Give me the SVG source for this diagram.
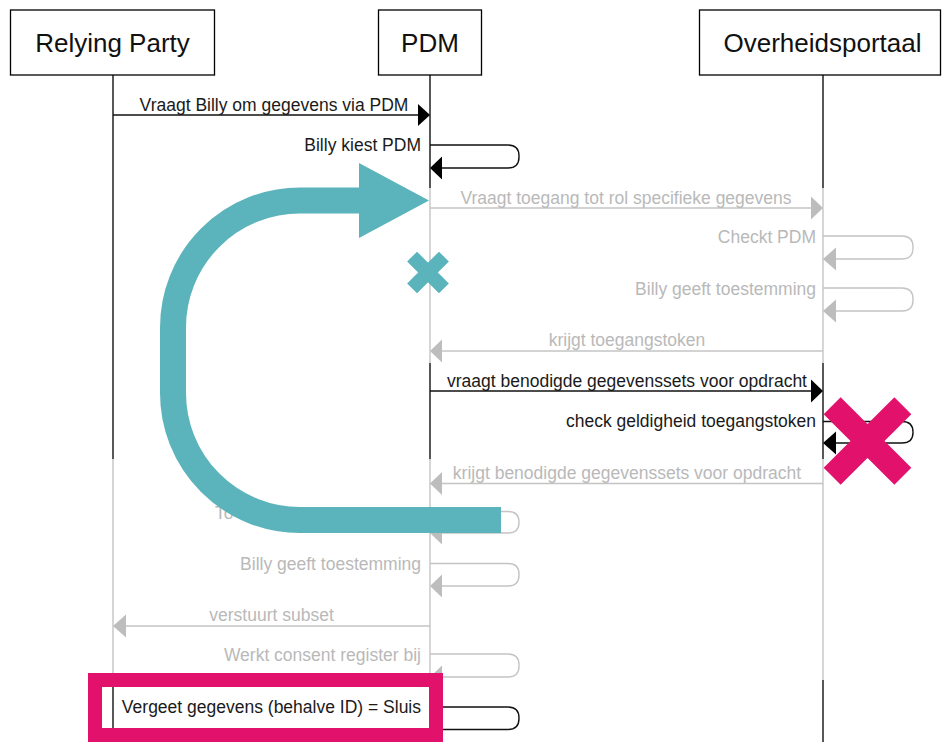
<svg xmlns="http://www.w3.org/2000/svg" width="942" height="742" viewBox="0 0 942 742">
<style>
.box{fill:#fff;stroke:#000;stroke-width:1.3}
.hd{font-family:"Liberation Sans",Arial,sans-serif;font-size:26px;fill:#111;text-anchor:middle}
.lb{font-family:"Liberation Sans",Arial,sans-serif;font-size:17.5px}
.blk{fill:#1a1a1a}
.gry{fill:#b9b9b9}
.ls{stroke-width:1.4;fill:none}
.lk{stroke:#111}
.lg{stroke:#c4c4c4}
.ak{fill:#000}
.ag{fill:#bdbdbd}
.r{text-anchor:end}
.m{text-anchor:middle}
</style>
<rect width="942" height="742" fill="#fff"/>
<g id="lifelines">
<line class="ls lk" x1="113" y1="75" x2="113" y2="459"/>
<line class="ls lg" x1="113" y1="459" x2="113" y2="680"/>
<line class="ls lk" x1="113" y1="680" x2="113" y2="742"/>
<line class="ls lk" x1="430" y1="75" x2="430" y2="188"/>
<line class="ls lg" x1="430" y1="188" x2="430" y2="363"/>
<line class="ls lk" x1="430" y1="363" x2="430" y2="459"/>
<line class="ls lg" x1="430" y1="459" x2="430" y2="680"/>
<line class="ls lk" x1="430" y1="680" x2="430" y2="742"/>
<line class="ls lk" x1="823" y1="75" x2="823" y2="188"/>
<line class="ls lg" x1="823" y1="188" x2="823" y2="363"/>
<line class="ls lk" x1="823" y1="363" x2="823" y2="459"/>
<line class="ls lg" x1="823" y1="459" x2="823" y2="680"/>
<line class="ls lk" x1="823" y1="680" x2="823" y2="742"/>
</g>
<g id="node-relying-party"><rect class="box" x="10.5" y="10" width="204" height="65"/><text class="hd" x="112.5" y="52">Relying Party</text></g>
<g id="node-pdm"><rect class="box" x="378.5" y="10" width="103" height="65"/><text class="hd" x="430" y="52">PDM</text></g>
<g id="node-overheidsportaal"><rect class="box" x="699.5" y="10" width="241" height="65"/><text class="hd" x="822.5" y="52">Overheidsportaal</text></g>
<g id="connectors">
<!-- 1 -->
<line class="ls lk" x1="113" y1="115" x2="420" y2="115"/>
<polygon class="ak" points="430,115 418,104 418,126"/>
<text class="lb blk m" x="274" y="111">Vraagt Billy om gegevens via PDM</text>
<!-- 2 -->
<path class="ls lk" d="M430 145 H508 Q519 145 519 156 V157 Q519 168 508 168 H440"/>
<polygon class="ak" points="430,168 442,156.5 442,179.5"/>
<text class="lb blk r" x="421" y="151">Billy kiest PDM</text>
<!-- 3 -->
<line class="ls lg" x1="430" y1="208" x2="813" y2="208"/>
<polygon class="ag" points="823,208 811,196.5 811,219.5"/>
<text class="lb gry m" x="626" y="203.5">Vraagt toegang tot rol specifieke gegevens</text>
<!-- 4 -->
<path class="ls lg" d="M823 236 H902 Q913 236 913 247 V248 Q913 259 902 259 H833"/>
<polygon class="ag" points="823,259 836,247.5 836,270.5"/>
<text class="lb gry r" x="816" y="243">Checkt PDM</text>
<!-- 5 -->
<path class="ls lg" d="M823 288 H902 Q913 288 913 299 V300 Q913 311 902 311 H833"/>
<polygon class="ag" points="823,311 836,299.5 836,322.5"/>
<text class="lb gry r" x="816" y="295">Billy geeft toestemming</text>
<!-- 6 -->
<line class="ls lg" x1="823" y1="351" x2="440" y2="351"/>
<polygon class="ag" points="430,351 442,339.5 442,362.5"/>
<text class="lb gry m" x="627" y="346">krijgt toegangstoken</text>
<!-- 7 -->
<line class="ls lk" x1="430" y1="391" x2="813" y2="391"/>
<polygon class="ak" points="823,391 811,379.5 811,402.5"/>
<text class="lb blk m" x="627" y="386.5">vraagt benodigde gegevenssets voor opdracht</text>
<!-- 8 -->
<path class="ls lk" d="M823 421.5 H902 Q913 421.5 913 432 V432.5 Q913 443 902 443 H833"/>
<polygon class="ak" points="823,443 836,431.5 836,454.5"/>
<text class="lb blk r" x="816" y="426.5">check geldigheid toegangstoken</text>
<!-- 9 -->
<line class="ls lg" x1="823" y1="483.5" x2="440" y2="483.5"/>
<polygon class="ag" points="430,483.5 442,472 442,495"/>
<text class="lb gry m" x="627" y="478.5">krijgt benodigde gegevenssets voor opdracht</text>
<!-- 10 -->
<path class="ls lg" d="M430 511.5 H508 Q519 511.5 519 522 V522.5 Q519 533 508 533 H440"/>
<polygon class="ag" points="430,533 442,521.5 442,544.5"/>
<text class="lb gry" x="215" y="518.5">To</text>
<!-- 11 -->
<path class="ls lg" d="M430 563.5 H508 Q519 563.5 519 574 V575 Q519 586 508 586 H440"/>
<polygon class="ag" points="430,586 442,574.5 442,597.5"/>
<text class="lb gry r" x="421" y="569.5">Billy geeft toestemming</text>
<!-- 12 -->
<line class="ls lg" x1="430" y1="626" x2="123" y2="626"/>
<polygon class="ag" points="113,626 126,614.5 126,637.5"/>
<text class="lb gry m" x="271.5" y="621">verstuurt subset</text>
<!-- 13 -->
<path class="ls lg" d="M430 654 H508 Q519 654 519 665 V666 Q519 677 508 677 H440"/>
<polygon class="ag" points="430,677 442,665.5 442,688.5"/>
<text class="lb gry r" x="421" y="661">Werkt consent register bij</text>
<!-- 14 -->
<path class="ls lk" d="M430 707 H508 Q519 707 519 718 V718.5 Q519 729.5 508 729.5 H440"/>
<polygon class="ak" points="430,729.5 442,718 442,741"/>
<text class="lb blk r" x="421" y="713">Vergeet gegevens (behalve ID) = Sluis</text>
</g>
<g id="teal-arrow">
<path d="M362 200.5 H300 A127 127 0 0 0 173 327.5 V393 A127 127 0 0 0 300 520 H501" fill="none" stroke="#5BB3BB" stroke-width="26"/>
<polygon points="359,163 429,200.5 359,238" fill="#5BB3BB"/>
</g>
<g id="teal-x" transform="translate(428 272.5) rotate(45)" fill="#5BB3BB">
<rect x="-22.5" y="-7" width="45" height="14"/>
<rect x="-7" y="-22.5" width="14" height="45"/>
</g>
<g id="pink-x" transform="translate(867.5 441) rotate(45)" fill="#E2116B">
<rect x="-50" y="-12" width="100" height="24"/>
<rect x="-12" y="-50" width="24" height="100"/>
</g>
<g id="pink-box">
<rect x="95" y="680" width="341" height="55" fill="none" stroke="#E2116B" stroke-width="14"/>
</g>
</svg>
